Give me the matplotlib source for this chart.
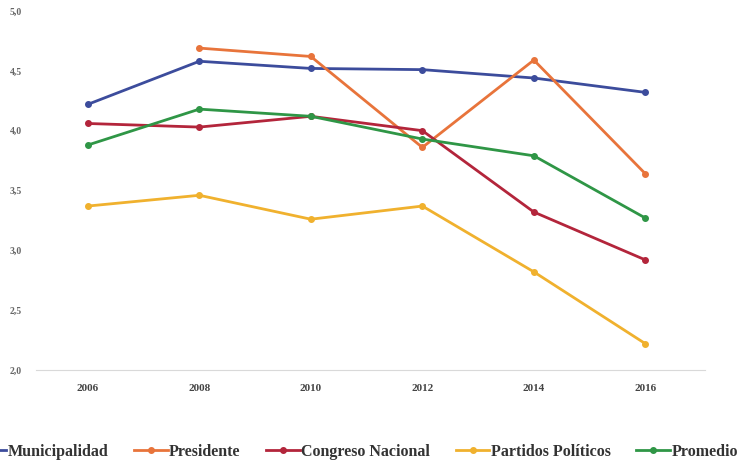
import matplotlib
matplotlib.use('Agg')
import matplotlib.pyplot as plt

years = [2006, 2008, 2010, 2012, 2014, 2016]
municipalidad = [4.22, 4.58, 4.52, 4.51, 4.44, 4.32]
presidente = [None, 4.69, 4.62, 3.86, 4.59, 3.64]
congreso = [4.06, 4.03, 4.12, 4.00, 3.32, 2.92]
partidos = [3.37, 3.46, 3.26, 3.37, 2.82, 2.22]
promedio = [3.88, 4.18, 4.12, 3.93, 3.79, 3.27]

series = [
    ('Municipalidad', municipalidad, '#3c4c9c'),
    ('Presidente', presidente, '#e8743b'),
    ('Congreso Nacional', congreso, '#b3253b'),
    ('Partidos Políticos', partidos, '#f0b12e'),
    ('Promedio', promedio, '#2f9646'),
]

plt.rcParams['font.family'] = ['Liberation Serif', 'DejaVu Serif']

fig = plt.figure(figsize=(7.48, 4.62), dpi=100)
ax = fig.add_axes([36 / 748, 1 - 370 / 462, 669 / 748, 359 / 462])

for name, vals, col in series:
    xs = [x for x, v in zip(years, vals) if v is not None]
    ys = [v for v in vals if v is not None]
    ax.plot(xs, ys, color=col, lw=2, marker='o', ms=4, label=name)

ax.set_ylim(2.0, 5.0)
ax.set_xlim(2005.07, 2017.07)
ax.set_xticks(years)
ax.set_xticklabels([str(y) for y in years], fontsize=8, fontweight='bold', color='#444444')
ax.set_yticks([2.0, 2.5, 3.0, 3.5, 4.0, 4.5, 5.0])
ax.set_yticklabels(['2,0', '2,5', '3,0', '3,5', '4,0', '4,5', '5,0'],
                   fontsize=7, fontweight='bold', color='#666666')
for s in ['top', 'right', 'left']:
    ax.spines[s].set_visible(False)
ax.spines['bottom'].set_color('#d9d9d9')
ax.tick_params(axis='x', length=0, pad=10)
ax.tick_params(axis='y', length=0, pad=10)

fig.legend(loc='center', bbox_to_anchor=(0.475, 1 - 452 / 462), ncol=5, frameon=False,
           prop={'size': 11.5, 'weight': 'bold'}, handlelength=2.1, handletextpad=0.1,
           columnspacing=1.6, labelcolor='#333333')

fig.savefig('out.png', dpi=100)
